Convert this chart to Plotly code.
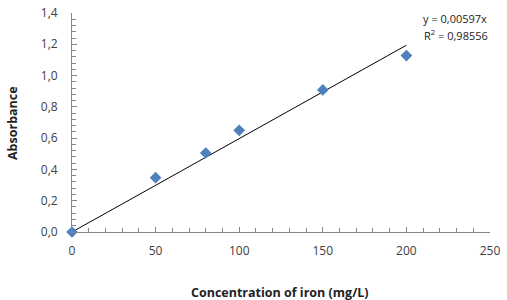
import plotly.graph_objects as go

conc = [0, 50, 80, 100, 150, 200]
absorb = [0.0, 0.347, 0.505, 0.65, 0.908, 1.128]
slope = 0.00597
trend_x = [0, 200]
trend_y = [slope * v for v in trend_x]

font_fam = "Open Sans, Liberation Sans, sans-serif"

fig = go.Figure()
fig.add_trace(go.Scatter(x=trend_x, y=trend_y, mode="lines",
                         line=dict(color="black", width=1), showlegend=False,
                         hoverinfo="skip"))
fig.add_trace(go.Scatter(x=conc, y=absorb, mode="markers",
                         marker=dict(symbol="diamond", size=9, color="#4F81BD"),
                         showlegend=False, cliponaxis=False))

fig.add_annotation(xref="paper", yref="paper", x=0.835, y=0.977, xanchor="left", yanchor="middle",
                   text="y = 0,00597x", showarrow=False,
                   font=dict(family=font_fam, size=11, color="#222222"))
fig.add_annotation(xref="paper", yref="paper", x=0.838, y=0.9, xanchor="left", yanchor="middle",
                   text="R<sup>2</sup> = 0,98556", showarrow=False,
                   font=dict(family=font_fam, size=11, color="#222222"))

# axis titles as annotations for exact placement
fig.add_annotation(xref="paper", yref="paper", x=(280 - 72) / 418, y=-(292 - 232) / 219,
                   xanchor="center", yanchor="middle", showarrow=False,
                   text="<b>Concentration of iron (mg/L)</b>",
                   font=dict(family=font_fam, size=12.5, color="#222222"))
fig.add_annotation(xref="paper", yref="paper", x=-(72 - 12) / 418, y=(232 - 123) / 219,
                   xanchor="center", yanchor="middle", showarrow=False, textangle=-90,
                   text="<b>Absorbance</b>",
                   font=dict(family=font_fam, size=12.5, color="#222222"))

axis_common = dict(showgrid=False, zeroline=False, showline=True, linecolor="#868686",
                   linewidth=1, ticks="inside", ticklen=5, tickcolor="#868686",
                   automargin=False,
                   tickfont=dict(family=font_fam, size=12, color="#404040"))

fig.update_xaxes(range=[0, 250], tick0=0, dtick=50,
                 minor=dict(dtick=10, ticks="inside", ticklen=4, tickcolor="#868686"),
                 ticklabelstandoff=8,
                 **axis_common)
fig.update_yaxes(range=[0, 1.4], tick0=0, dtick=0.2, tickformat=".1f",
                 minor=dict(dtick=0.04, ticks="inside", ticklen=4, tickcolor="#868686"),
                 ticklabelstandoff=11,
                 **axis_common)

fig.update_layout(width=507, height=300, margin=dict(l=72, r=17, t=13, b=68),
                  paper_bgcolor="white", plot_bgcolor="white", separators=",.",
                  showlegend=False)

fig.write_html("out.html")
